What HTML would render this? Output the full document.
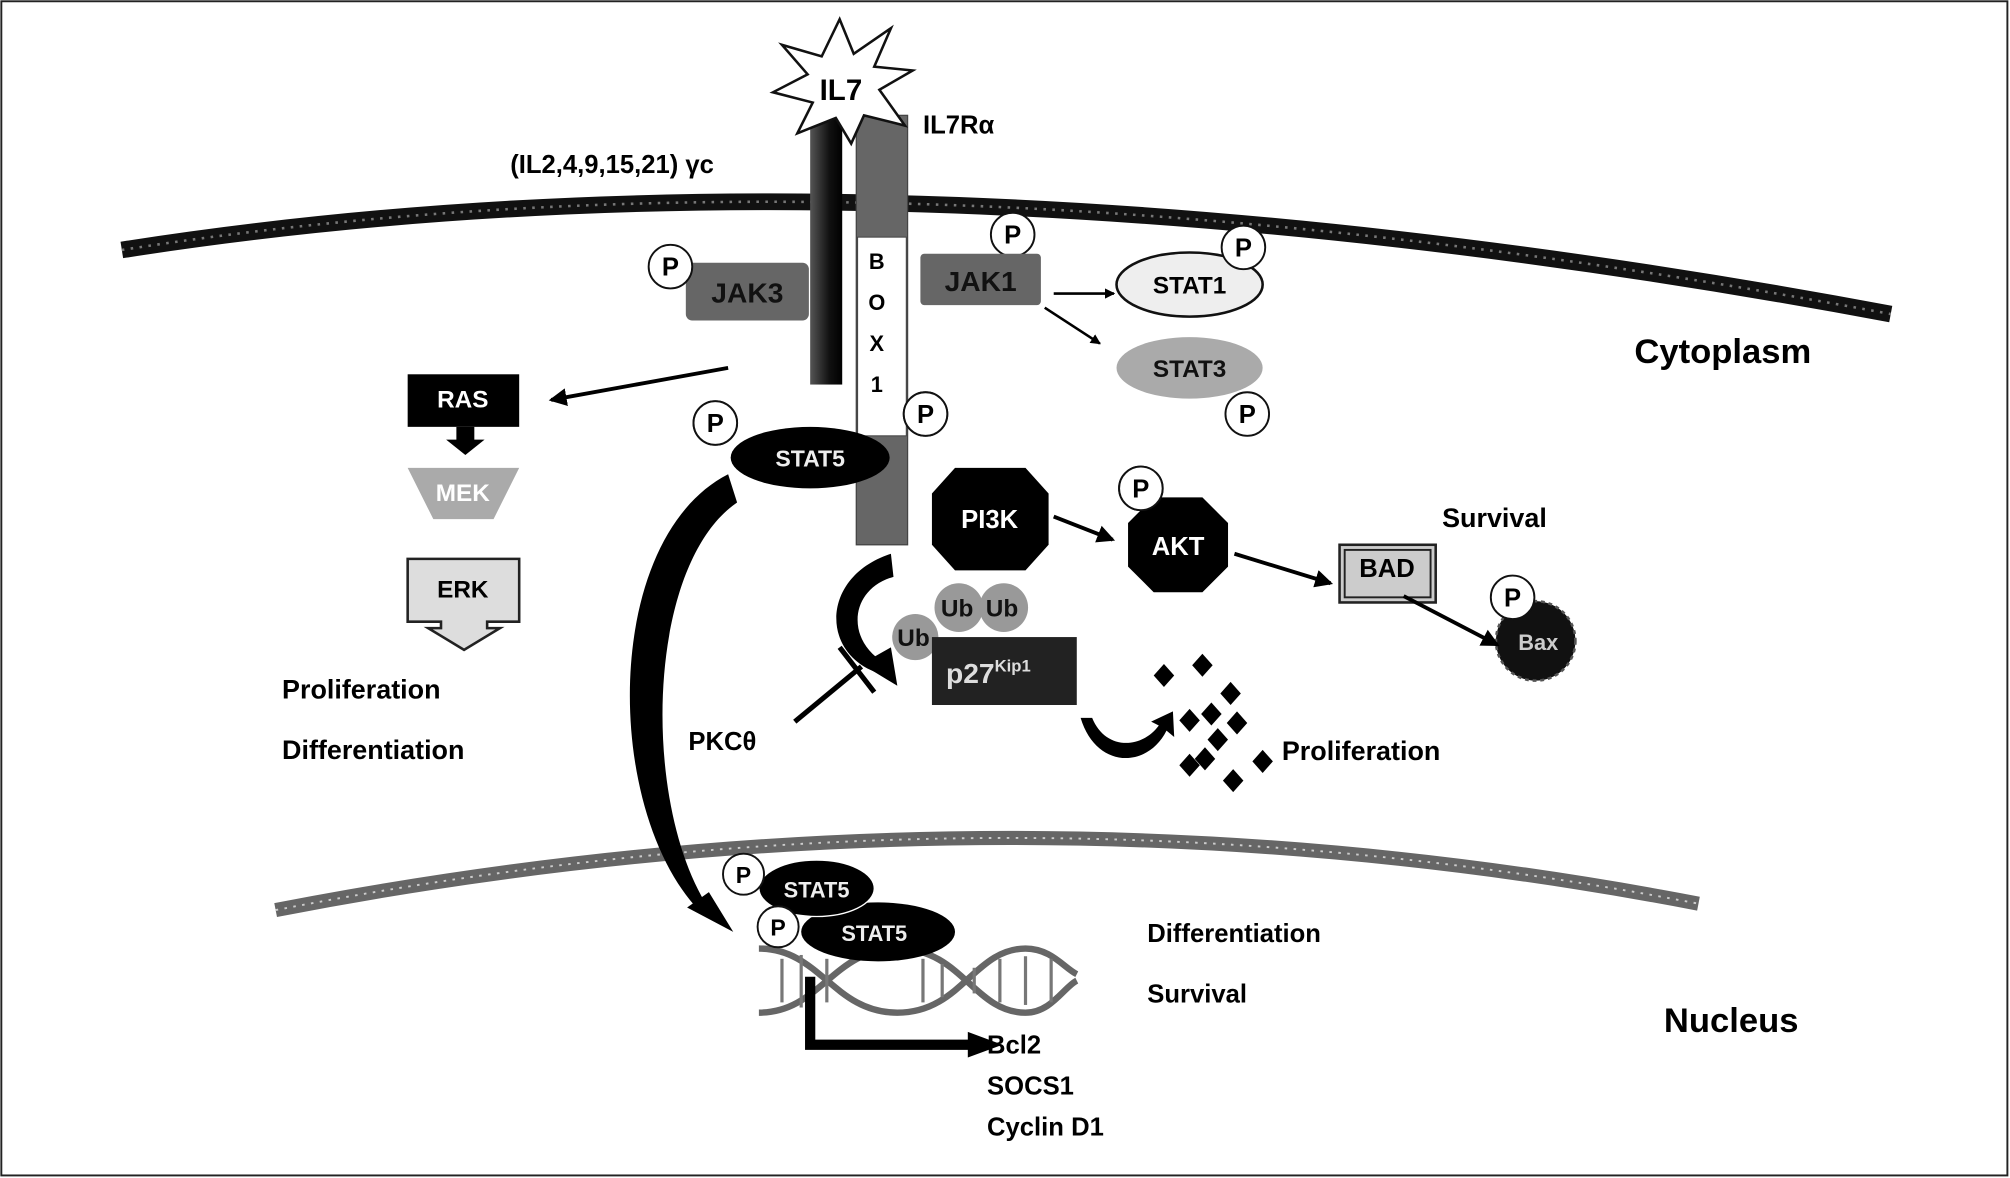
<!DOCTYPE html>
<html><head><meta charset="utf-8"><style>
html,body{margin:0;padding:0;background:#fff}
svg{display:block}
text{font-family:"Liberation Sans",sans-serif;font-weight:bold}
</style></head><body>
<svg width="2010" height="1178" viewBox="0 0 1568 919" xmlns="http://www.w3.org/2000/svg">
<defs>
<marker id="ah" markerWidth="8" markerHeight="8" refX="7" refY="4" orient="auto" markerUnits="userSpaceOnUse"><path d="M0,0 L8,4 L0,8 z" fill="#000"/></marker>
<marker id="ah2" markerWidth="14" markerHeight="14" refX="12" refY="7" orient="auto" markerUnits="userSpaceOnUse"><path d="M0,0 L14,7 L0,14 z" fill="#000"/></marker>
<linearGradient id="gc" x1="0" x2="1"><stop offset="0" stop-color="#555"/><stop offset="0.6" stop-color="#111"/><stop offset="1" stop-color="#000"/></linearGradient>
</defs>
<rect x="1" y="1" width="1565" height="916" fill="#fff" stroke="#222" stroke-width="1.5"/>
<!-- membranes -->
<path d="M95,195 Q700,100 1475,245" fill="none" stroke="#111" stroke-width="13"/>
<path d="M95,195 Q700,100 1475,245" fill="none" stroke="#777" stroke-width="2" stroke-dasharray="2 5"/>
<path d="M215,710 Q780,600 1325,705" fill="none" stroke="#666" stroke-width="11"/>
<path d="M215,710 Q780,600 1325,705" fill="none" stroke="#ccc" stroke-width="1.5" stroke-dasharray="2 5"/>
<!-- receptors -->
<rect x="632" y="92" width="25" height="208" fill="url(#gc)"/>
<rect x="668" y="90" width="40" height="335" fill="#666" stroke="#444"/>
<rect x="669" y="185" width="38" height="155" fill="#fff" stroke="#444" stroke-width="0.8"/>
<g font-size="17" text-anchor="middle"><text x="684" y="210">B</text><text x="684" y="242">O</text><text x="684" y="274">X</text><text x="684" y="306">1</text></g>
<polygon points="655,15 666,42 695,22 682,52 712,55 686,70 706,98 674,90 664,112 652,92 622,104 634,80 603,72 630,58 610,35 641,44" fill="#fff" stroke="#111" stroke-width="2"/>
<text x="656" y="78" font-size="23" text-anchor="middle">IL7</text>
<text x="398" y="135" font-size="20">(IL2,4,9,15,21)  γc</text>
<text x="720" y="104" font-size="20">IL7Rα</text>
<!-- JAK3 -->
<rect x="535" y="205" width="96" height="45" rx="5" fill="#666"/>
<text x="583" y="236" font-size="22" text-anchor="middle" fill="#111">JAK3</text>
<g fill="#fff" stroke="#111" stroke-width="1.5"><circle cx="523" cy="208" r="17"/><circle cx="790" cy="183" r="17"/><circle cx="558" cy="330" r="17"/><circle cx="722" cy="323" r="17"/><circle cx="890" cy="381" r="17"/></g>
<!-- JAK1 -->
<rect x="718" y="198" width="94" height="40" rx="3" fill="#666"/>
<text x="765" y="227" font-size="22" text-anchor="middle" fill="#111">JAK1</text>
<ellipse cx="928" cy="222" rx="57" ry="25" fill="#eee" stroke="#111" stroke-width="2"/>
<text x="928" y="229" font-size="19" text-anchor="middle">STAT1</text>
<circle cx="970" cy="193" r="17" fill="#fff" stroke="#111" stroke-width="1.5"/>
<ellipse cx="928" cy="287" rx="57" ry="24" fill="#aaa"/>
<text x="928" y="294" font-size="19" text-anchor="middle" fill="#111">STAT3</text>
<circle cx="973" cy="323" r="17" fill="#fff" stroke="#111" stroke-width="1.5"/>
<line x1="822" y1="229" x2="869" y2="229" stroke="#000" stroke-width="2" marker-end="url(#ah)"/>
<line x1="815" y1="240" x2="858" y2="268" stroke="#000" stroke-width="2" marker-end="url(#ah)"/>
<!-- RAS MEK ERK -->
<line x1="568" y1="287" x2="430" y2="312" stroke="#000" stroke-width="3" marker-end="url(#ah2)"/>
<rect x="318" y="292" width="87" height="41" fill="#000"/>
<text x="361" y="318" font-size="19" text-anchor="middle" fill="#fff">RAS</text>
<polygon points="356,333 370,333 370,343 378,343 363,355 348,343 356,343" fill="#000"/>
<polygon points="318,365 405,365 385,405 338,405" fill="#aaa"/>
<text x="361" y="391" font-size="19" text-anchor="middle" fill="#fff">MEK</text>
<polygon points="318,436 405,436 405,485 380,485 380,490 390,490 362,507 334,490 344,490 344,485 318,485" fill="#ddd" stroke="#222" stroke-width="2"/>
<text x="361" y="466" font-size="19" text-anchor="middle">ERK</text>
<text x="220" y="545" font-size="21">Proliferation</text>
<text x="220" y="592" font-size="21">Differentiation</text>
<!-- STAT5 -->
<ellipse cx="632" cy="357" rx="62" ry="24" fill="#000"/>
<text x="632" y="364" font-size="18" text-anchor="middle" fill="#eee" font-weight="normal">STAT5</text>
<circle cx="558" cy="330" r="17" fill="#fff" stroke="#111" stroke-width="1.5"/>
<circle cx="722" cy="323" r="17" fill="#fff" stroke="#111" stroke-width="1.5"/>
<path d="M568,370 C470,420 470,630 545,710 L550,704 C500,620 505,440 575,392 Z" fill="#000"/>
<polygon points="536,708 572,727 553,696" fill="#000"/>
<!-- PI3K AKT -->
<polygon points="745,365 800,365 818,385 818,425 800,445 745,445 727,425 727,385" fill="#000"/>
<text x="772" y="412" font-size="20" text-anchor="middle" fill="#fff">PI3K</text>
<polygon points="900,388 938,388 958,408 958,442 938,462 900,462 880,442 880,408" fill="#000"/>
<text x="919" y="433" font-size="20" text-anchor="middle" fill="#fff">AKT</text>
<circle cx="890" cy="381" r="17" fill="#fff" stroke="#111" stroke-width="1.5"/>
<line x1="822" y1="403" x2="868" y2="421" stroke="#000" stroke-width="3" marker-end="url(#ah2)"/>
<line x1="963" y1="432" x2="1038" y2="455" stroke="#000" stroke-width="3" marker-end="url(#ah2)"/>
<rect x="1045" y="425" width="75" height="45" fill="#ccc" stroke="#222" stroke-width="2"/>
<rect x="1049" y="429" width="67" height="37" fill="none" stroke="#222" stroke-width="1.5"/>
<text x="1082" y="450" font-size="20" text-anchor="middle">BAD</text>
<text x="1125" y="411" font-size="21">Survival</text>
<circle cx="1198" cy="500" r="31" fill="#111" stroke="#555" stroke-width="2" stroke-dasharray="3 3"/>
<text x="1200" y="507" font-size="17" text-anchor="middle" fill="#ccc" font-weight="normal">Bax</text>
<circle cx="1180" cy="466" r="17" fill="#fff" stroke="#111" stroke-width="1.5"/>
<line x1="1095" y1="465" x2="1168" y2="503" stroke="#000" stroke-width="3" marker-end="url(#ah2)"/>
<!-- p27 -->
<path d="M695,432 C640,450 640,510 685,525 L690,517 C660,500 662,460 697,450 Z" fill="#000"/>
<polygon points="672,518 700,535 695,505" fill="#000"/>
<circle cx="714" cy="497" r="18" fill="#999"/>
<circle cx="748" cy="474" r="19" fill="#999"/>
<circle cx="783" cy="474" r="19" fill="#999"/>
<rect x="727" y="497" width="113" height="53" fill="#222"/>
<g font-size="19" fill="#111"><text x="700" y="504">Ub</text><text x="734" y="481">Ub</text><text x="769" y="481">Ub</text></g>
<text x="738" y="533" font-size="22" fill="#ddd" font-weight="normal">p27<tspan font-size="13" dy="-9">Kip1</tspan></text>
<text x="537" y="585" font-size="20">PKCθ</text>
<line x1="620" y1="563" x2="672" y2="520" stroke="#000" stroke-width="4"/>
<line x1="655" y1="505" x2="682" y2="540" stroke="#000" stroke-width="4"/>
<!-- diamonds -->
<g fill="#000">
<polygon points="938,510 946,519 938,528 930,519"/>
<polygon points="908,518 916,527 908,536 900,527"/>
<polygon points="960,532 968,541 960,550 952,541"/>
<polygon points="945,548 953,557 945,566 937,557"/>
<polygon points="928,553 936,562 928,571 920,562"/>
<polygon points="965,555 973,564 965,573 957,564"/>
<polygon points="950,568 958,577 950,586 942,577"/>
<polygon points="940,583 948,592 940,601 932,592"/>
<polygon points="928,588 936,597 928,606 920,597"/>
<polygon points="985,585 993,594 985,603 977,594"/>
<polygon points="962,600 970,609 962,618 954,609"/>
</g>
<path d="M843,560 C855,600 895,600 910,570 L916,575 L915,555 L898,563 L904,566 C890,585 862,585 852,560 Z" fill="#000"/>
<text x="1000" y="593" font-size="21">Proliferation</text>
<!-- nucleus -->
<g stroke="#666" stroke-width="5" fill="none">
<path d="M592,740 C640,740 650,790 700,790 C750,790 760,740 800,740 C820,740 830,755 840,760"/>
<path d="M592,790 C640,790 650,740 700,740 C750,740 760,790 800,790 C820,790 830,770 840,765"/>
</g>
<g stroke="#777" stroke-width="2.5"><line x1="610" y1="748" x2="610" y2="782"/><line x1="625" y1="745" x2="625" y2="786"/><line x1="645" y1="748" x2="645" y2="782"/><line x1="720" y1="748" x2="720" y2="782"/><line x1="735" y1="752" x2="735" y2="778"/><line x1="760" y1="755" x2="760" y2="775"/><line x1="780" y1="748" x2="780" y2="782"/><line x1="800" y1="746" x2="800" y2="784"/><line x1="820" y1="748" x2="820" y2="782"/></g>
<ellipse cx="685" cy="727" rx="60" ry="23" fill="#000"/>
<text x="682" y="734" font-size="17" fill="#eee" text-anchor="middle" font-weight="normal">STAT5</text>
<ellipse cx="637" cy="693" rx="45" ry="22" fill="#000" stroke="#fff" stroke-width="1"/>
<text x="637" y="700" font-size="17" fill="#eee" text-anchor="middle" font-weight="normal">STAT5</text>
<circle cx="580" cy="682" r="16" fill="#fff" stroke="#111" stroke-width="1.5"/>
<circle cx="607" cy="723" r="16" fill="#fff" stroke="#111" stroke-width="1.5"/>
<g font-size="18"><text x="574" y="689">P</text><text x="601" y="730">P</text></g>
<path d="M632,762 L632,815 L760,815" fill="none" stroke="#000" stroke-width="8"/>
<polygon points="755,805 782,815 755,825" fill="#000"/>
<g font-size="20"><text x="770" y="822">Bcl2</text><text x="770" y="854">SOCS1</text><text x="770" y="886">Cyclin D1</text>
<text x="895" y="735">Differentiation</text><text x="895" y="782">Survival</text></g>
<text x="1275" y="283" font-size="27">Cytoplasm</text>
<text x="1298" y="805" font-size="27">Nucleus</text>
<!-- P labels -->
<g font-size="20" text-anchor="middle"><text x="523" y="215">P</text><text x="790" y="190">P</text><text x="970" y="200">P</text><text x="973" y="330">P</text><text x="558" y="337">P</text><text x="722" y="330">P</text><text x="890" y="388">P</text><text x="1180" y="473">P</text></g>
</svg>
</body></html>
